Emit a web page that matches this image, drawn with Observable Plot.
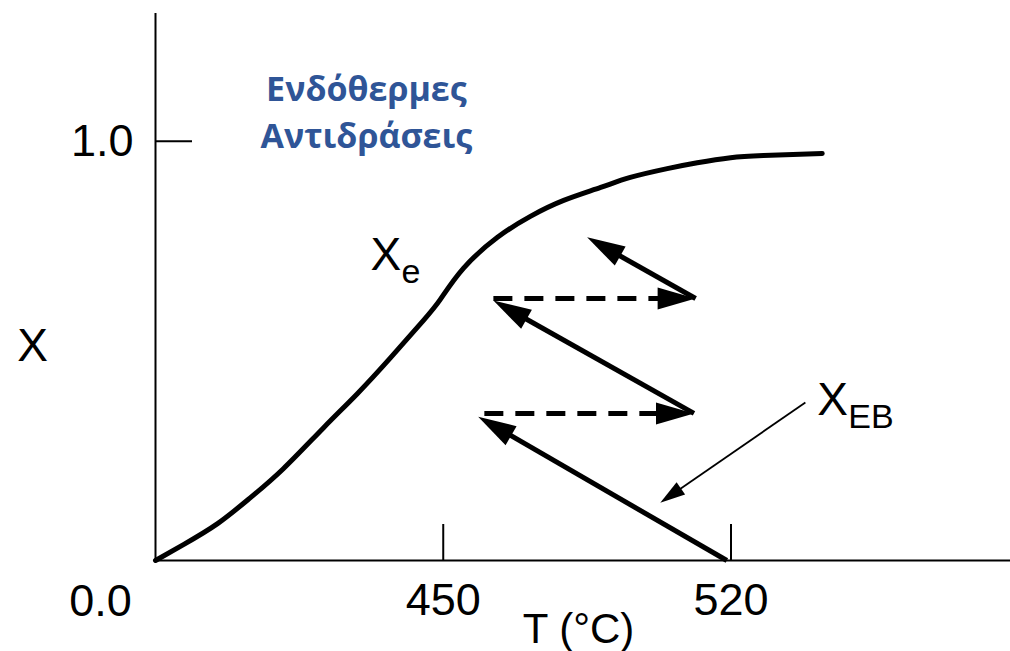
<!DOCTYPE html>
<html>
<head>
<meta charset="utf-8">
<script src="https://cdn.jsdelivr.net/npm/d3@7"></script>
<script src="https://cdn.jsdelivr.net/npm/@observablehq/plot@0.6"></script>
<style>
  html, body { margin: 0; padding: 0; background: #fff; }
  #chart svg { display: block; }
</style>
</head>
<body>
<div id="chart"></div>
<script>
// Equilibrium conversion X_e against temperature (endothermic reaction)
const eqT = [380, 386.8, 395.1, 403.1, 411.1, 420.9, 429.1, 437.2, 445.2, 449.3, 454.9, 463.2, 471.2, 479.3, 488.3, 495.5, 504.5, 511.8, 519.9, 527.9, 542.2];
const eqX = [0, 0.038, 0.088, 0.150, 0.219, 0.317, 0.398, 0.484, 0.573, 0.623, 0.697, 0.771, 0.821, 0.859, 0.890, 0.914, 0.935, 0.949, 0.961, 0.966, 0.971];

// Adiabatic reactor beds (solid): start and end points
const bedT1 = [519, 511, 511.4];
const bedX1 = [0, 0.351, 0.625];
const bedT2 = [458.5, 462.2, 485];
const bedX2 = [0.343, 0.620, 0.771];

// Interstage reheating (dashed)
const heatT1 = [460, 462.2];
const heatT2 = [511, 511.4];
const heatX = [0.351, 0.625];

// Pointer to the energy-balance line X_EB
const ebT = [538.1, 502.8];
const ebX = [0.377, 0.138];

// Axis ticks
const xTicks = [450, 520];
const yTicks = [1.0];

// Curve labels with subscripts
const labelText = ["X", "X"];
const labelSub = ["e", "EB"];
const labelT = [432.3, 541.0];
const labelX = [0.692, 0.346];

const W = 1010, H = 651;
const mL = 155, mR = 0, mT = 13, mB = 91;
const xDomain = [380, 588];
const yDomain = [0, 1.305];
const font = "Liberation Sans, Arial, sans-serif";

const sx = Plot.scale({x: {domain: xDomain, range: [mL, W - mR]}});
const sy = Plot.scale({y: {domain: yDomain, range: [H - mB, mT]}});

const curve = eqT.map((t, i) => ({t, x: eqX[i]}));
const beds = bedT1.map((t, i) => ({t1: t, x1: bedX1[i], t2: bedT2[i], x2: bedX2[i]}));
const heats = heatT1.map((t, i) => ({t1: t, x1: heatX[i], t2: heatT2[i], x2: heatX[i]}));
const eb = [{t1: ebT[0], x1: ebX[0], t2: ebT[1], x2: ebX[1]}];
const labels = labelText.map((s, i) => ({s, sub: labelSub[i], t: labelT[i], x: labelX[i]}));

// screen-space heading of a segment, degrees clockwise from north
const heading = d => {
  const dx = sx.apply(d.t2) - sx.apply(d.t1);
  const dy = sy.apply(d.x2) - sy.apply(d.x1);
  return Math.atan2(dx, -dy) * 180 / Math.PI;
};

const arrowMarks = (data, {width, head, r, dash}) => [
  Plot.arrow(data, {x1: "t1", y1: "x1", x2: "t2", y2: "x2", headLength: 0, insetEnd: head - 4,
    stroke: "black", strokeWidth: width, strokeDasharray: dash, strokeLinecap: "butt"}),
  Plot.vector(data, {x: "t2", y: "x2", rotate: heading, length: head, r, anchor: "end",
    shape: "spike", fill: "black", stroke: "none"})
];

const chart = Plot.plot({
  width: W, height: H,
  marginLeft: mL, marginRight: mR, marginTop: mT, marginBottom: mB,
  style: {fontFamily: font, background: "#fff", overflow: "visible"},
  x: {domain: xDomain},
  y: {domain: yDomain},
  marks: [
    // axes lines
    Plot.ruleY([0], {stroke: "black", strokeWidth: 2}),
    Plot.ruleX([xDomain[0]], {y1: 0, y2: yDomain[1], stroke: "black", strokeWidth: 2}),
    // inward ticks
    Plot.axisX({ticks: xTicks, tickSize: -36, tickFormat: () => "", strokeWidth: 2, label: null}),
    Plot.axisY({ticks: yTicks, tickSize: -37, tickFormat: () => "", strokeWidth: 2, label: null}),
    // tick labels
    Plot.axisX({ticks: xTicks, tickSize: 0, tickPadding: 23, fontSize: 45, fontFamily: font, fill: "black", label: null}),
    Plot.axisY({ticks: yTicks, tickSize: 0, tickPadding: 22, tickFormat: ".1f", fontSize: 45, fontFamily: font, fill: "black", label: null}),
    Plot.text(["0.0"], {x: () => xDomain[0], y: () => 0, dx: -55, dy: 55, lineAnchor: "bottom", textAnchor: "middle", fontSize: 45, fontFamily: font, fill: "black"}),
    // axis titles
    Plot.text(["X"], {x: () => xDomain[0], y: () => 0.5, dx: -123, dy: 10, lineAnchor: "bottom", textAnchor: "middle", fontSize: 46, fontFamily: font, fill: "black"}),
    Plot.text(["T (°C)"], {x: () => 482.9, y: () => 0, dy: 82, lineAnchor: "bottom", textAnchor: "middle", fontSize: 42, fontFamily: font, fill: "black"}),
    // equilibrium curve
    Plot.line(curve, {x: "t", y: "x", curve: "natural", stroke: "black", strokeWidth: 5}),
    // staged operation
    ...arrowMarks(beds, {width: 5, head: 38, r: 11}),
    ...arrowMarks(heats, {width: 5, head: 38, r: 11, dash: "19,12"}),
    ...arrowMarks(eb, {width: 1.8, head: 25, r: 7.5}),
    // curve labels
    Plot.text(labels, {x: "t", y: "x", text: "s", textAnchor: "start", lineAnchor: "bottom", fontSize: 46, fontFamily: font, fill: "black"}),
    Plot.text(labels, {x: "t", y: "x", text: "sub", textAnchor: "start", lineAnchor: "bottom", dx: 31, dy: 13, fontSize: 34, fontFamily: font, fill: "black"}),
    // title
    Plot.text(["Ενδόθερμες\nΑντιδράσεις"], {x: () => 431.3, y: () => 0.983, textAnchor: "middle", lineAnchor: "bottom", lineHeight: 1.41,
      fontSize: 34, fontWeight: "bold", fontFamily: "Open Sans", fill: "#2F5597"})
  ]
});

document.getElementById("chart").append(chart);
</script>
</body>
</html>
